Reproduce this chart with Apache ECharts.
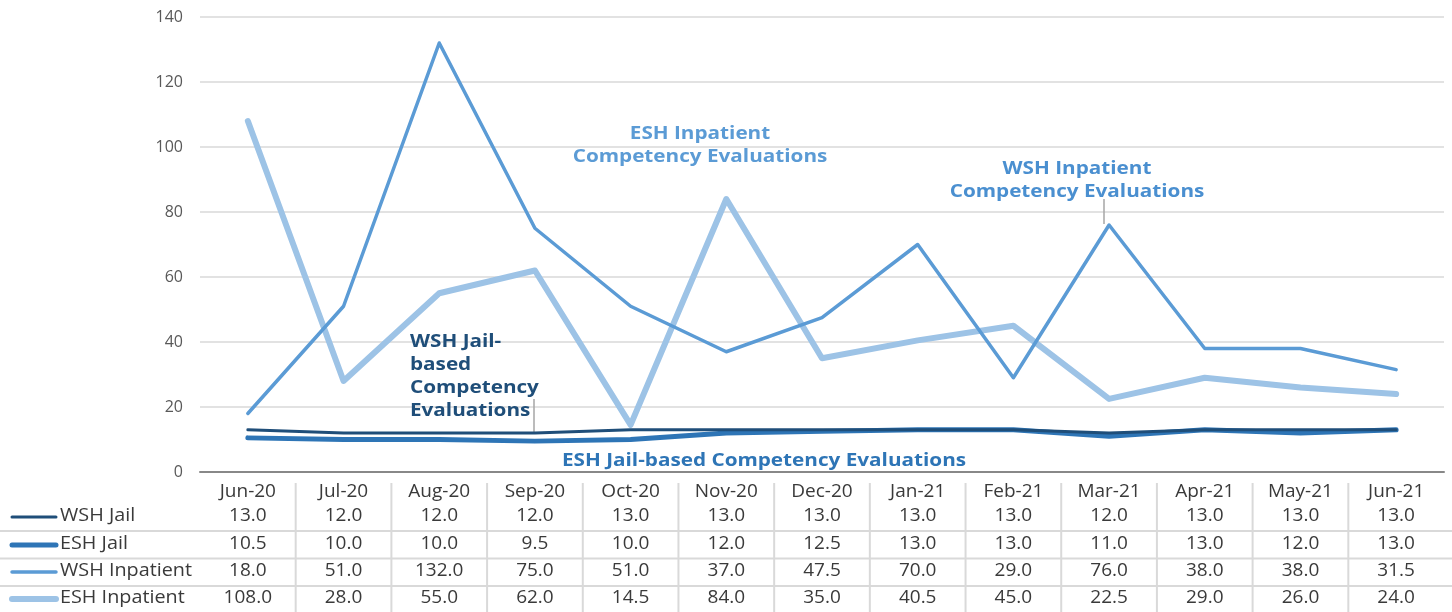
<!DOCTYPE html>
<html>
<head>
<meta charset="utf-8">
<script src="https://cdn.jsdelivr.net/npm/echarts@6/dist/echarts.min.js"></script>
<style>
html, body { margin: 0; padding: 0; background: #fff; }
#chart { width: 1452px; height: 612px; }
</style>
</head>
<body>
<div id="chart"></div>
<script>
// data
const months = ['Jun-20', 'Jul-20', 'Aug-20', 'Sep-20', 'Oct-20', 'Nov-20', 'Dec-20', 'Jan-21', 'Feb-21', 'Mar-21', 'Apr-21', 'May-21', 'Jun-21'];
const wshJail = [13, 12, 12, 12, 13, 13, 13, 13, 13, 12, 13, 13, 13];
const eshJail = [10.5, 10, 10, 9.5, 10, 12, 12.5, 13, 13, 11, 13, 12, 13];
const wshInpatient = [18, 51, 132, 75, 51, 37, 47.5, 70, 29, 76, 38, 38, 31.5];
const eshInpatient = [108, 28, 55, 62, 14.5, 84, 35, 40.5, 45, 22.5, 29, 26, 24];
const seriesNames = ['WSH Jail', 'ESH Jail', 'WSH Inpatient', 'ESH Inpatient'];
const yMin = 0, yMax = 140, yStep = 20;

const FONT = '"Open Sans", sans-serif';
const colors = ['#1f4e79', '#2e75b6', '#5b9bd5', '#9dc3e6'];
const widths = [3, 5, 3.5, 6];
const allValues = [wshJail, eshJail, wshInpatient, eshInpatient];
const rowY = [516, 544, 571, 598];   // table row centres
const axisY = 472;
const cellLabel = { interval: 0, margin: 20, verticalAlign: 'middle', fontFamily: FONT, fontSize: 19, color: '#3a3a3a' };

const chart = echarts.init(document.getElementById('chart'));

// extra x axes used as the data table rows
const tableAxes = allValues.map((vals, i) => ({
  type: 'category',
  data: vals.map(v => v.toFixed(1)),
  position: 'bottom',
  offset: rowY[i] - axisY - 20,
  axisLine: { show: false },
  axisTick: { show: false },
  splitLine: { show: false },
  axisLabel: cellLabel
}));

chart.setOption({
  animation: false,
  grid: { left: 200, right: 8, top: 17, bottom: 140 },
  xAxis: [{
    type: 'category',
    data: months,
    axisLine: { lineStyle: { color: '#888', width: 2 } },
    axisTick: { show: false },
    axisLabel: cellLabel
  }].concat(tableAxes),
  yAxis: {
    type: 'value', min: yMin, max: yMax, interval: yStep,
    axisLine: { show: false },
    axisTick: { show: false },
    axisLabel: { margin: 17, fontFamily: FONT, fontSize: 16, color: '#595959' },
    splitLine: { lineStyle: { color: '#d9d9d9', width: 1.5 } }
  },
  series: allValues.map((vals, i) => ({
    name: seriesNames[i],
    type: 'line',
    data: vals,
    symbol: 'none',
    z: 10 - i,
    lineStyle: { color: colors[i], width: widths[i], cap: 'round', join: 'round' }
  }))
});

// table grid lines, legend keys and annotations
const g = [];
for (let i = 1; i < months.length; i++) {
  const x = (chart.convertToPixel({ xAxisIndex: 0 }, i - 1) + chart.convertToPixel({ xAxisIndex: 0 }, i)) / 2;
  g.push({ type: 'line', shape: { x1: x, y1: 483, x2: x, y2: 612 }, style: { stroke: '#d9d9d9', lineWidth: 2 } });
}
[531, 558.5, 586].forEach(y => {
  g.push({ type: 'line', shape: { x1: 0, y1: y, x2: 1452, y2: y }, style: { stroke: '#d9d9d9', lineWidth: 2 } });
});
seriesNames.forEach((name, i) => {
  g.push({ type: 'line', shape: { x1: 12, y1: rowY[i] + 1, x2: 56, y2: rowY[i] + 1 }, style: { stroke: colors[i], lineWidth: widths[i], lineCap: 'round' } });
  g.push({ type: 'text', x: 60, y: rowY[i], scaleX: 1.1, style: { text: name, font: '18px ' + FONT, fill: '#3a3a3a', textVerticalAlign: 'middle' } });
});

function note(text, x, y, color, align) {
  g.push({ type: 'text', x: x, y: y, z: 20, scaleX: 1.15, style: { text: text, font: 'bold 18px ' + FONT, fill: color, textAlign: align, lineHeight: 23 } });
}
note('ESH Inpatient\nCompetency Evaluations', 700, 122, '#5b9bd5', 'center');
note('WSH Inpatient\nCompetency Evaluations', 1077, 157, '#4a8fd0', 'center');
note('WSH Jail-\nbased\nCompetency\nEvaluations', 410, 330, '#1f4e79', 'left');
note('ESH Jail-based Competency Evaluations', 764, 449, '#2e75b6', 'center');
g.push({ type: 'line', shape: { x1: 1104, y1: 199, x2: 1104, y2: 224 }, style: { stroke: '#a6a6a6', lineWidth: 1.5 } });
g.push({ type: 'line', shape: { x1: 534, y1: 399, x2: 534, y2: 433 }, style: { stroke: '#a6a6a6', lineWidth: 1.5 } });

chart.setOption({ graphic: g });
</script>
</body>
</html>
